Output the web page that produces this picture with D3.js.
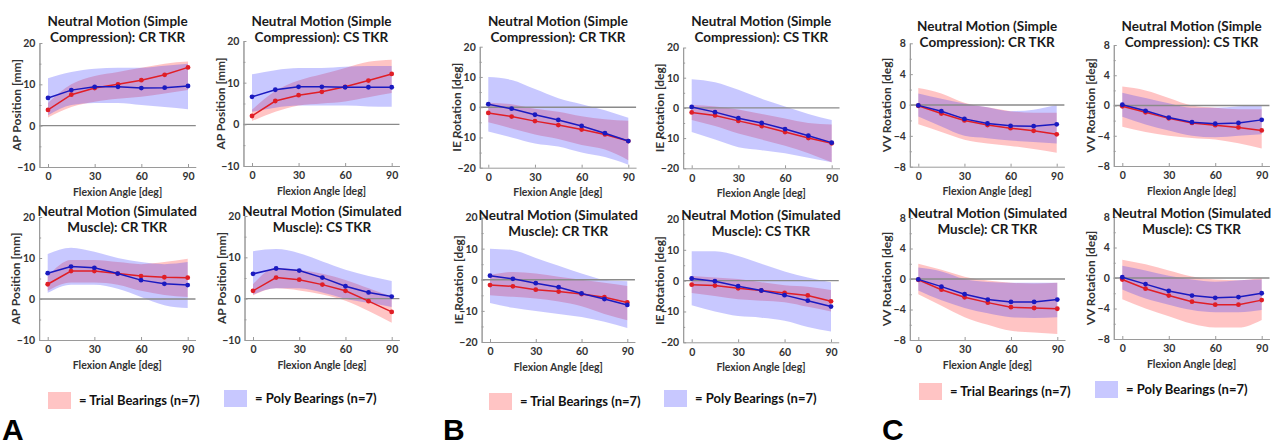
<!DOCTYPE html>
<html><head><meta charset="utf-8">
<script src="https://cdn.jsdelivr.net/npm/d3@7"></script>
<style>body{margin:0;background:#fff}svg{display:block}</style>
</head><body>
<svg id="c" width="1281" height="445"></svg>
<script>
// ---------- data ----------
const angles = [0, 15, 30, 45, 60, 75, 90];
const xTicks = [0, 30, 60, 90];
const apTicks = [20, 10, 0, -10];
const ieTicks = [20, 10, 0, -10, -20];
const vvTicks = [8, 4, 0, -4, -8];

// A1: AP, simple compression, CR
const apSimpleCR_trialMean = [3.8, 7.5, 9.1, 10.0, 11.0, 12.3, 14.1];
const apSimpleCR_trialLo   = [2.0, 4.5, 5.8, 6.5, 7.0, 7.8, 8.6];
const apSimpleCR_trialHi   = [5.5, 10.0, 12.0, 13.0, 14.0, 15.0, 15.5];
const apSimpleCR_polyMean  = [6.7, 8.6, 9.4, 9.4, 9.1, 9.2, 9.6];
const apSimpleCR_polyLo    = [2.5, 5.0, 5.5, 5.5, 5.0, 4.5, 4.0];
const apSimpleCR_polyHi    = [11.5, 13.0, 13.8, 14.0, 14.0, 14.5, 15.0];
// A2: AP, simple compression, CS
const apSimpleCS_trialMean = [2.0, 5.6, 7.0, 7.8, 9.0, 10.5, 12.1];
const apSimpleCS_trialLo   = [0.8, 3.0, 4.5, 5.0, 5.5, 6.5, 7.5];
const apSimpleCS_trialHi   = [3.5, 8.0, 10.5, 12.0, 13.5, 15.0, 15.5];
const apSimpleCS_polyMean  = [6.6, 8.3, 9.0, 9.0, 8.9, 8.9, 8.9];
const apSimpleCS_polyLo    = [3.0, 4.0, 4.5, 4.5, 4.5, 4.3, 4.2];
const apSimpleCS_polyHi    = [12.0, 13.0, 13.5, 13.5, 13.8, 14.0, 14.0];
// A3: AP, simulated muscle, CR
const apMuscleCR_trialMean = [3.6, 6.8, 6.8, 6.2, 5.6, 5.3, 5.2];
const apMuscleCR_trialLo   = [2.0, 4.0, 4.0, 3.5, 2.0, 1.0, 0.5];
const apMuscleCR_trialHi   = [5.5, 9.5, 9.5, 9.0, 8.5, 9.0, 9.8];
const apMuscleCR_polyMean  = [6.3, 7.9, 7.6, 6.2, 4.6, 3.7, 3.4];
const apMuscleCR_polyLo    = [1.5, 3.5, 3.5, 2.5, 0.5, -1.5, -2.2];
const apMuscleCR_polyHi    = [11.0, 12.5, 11.5, 10.0, 9.0, 8.5, 9.0];
// A4: AP, simulated muscle, CS
const apMuscleCS_trialMean = [1.9, 5.1, 4.6, 3.4, 1.9, -0.6, -3.2];
const apMuscleCS_trialLo   = [0.8, 2.5, 2.0, 1.0, -0.5, -3.0, -5.8];
const apMuscleCS_trialHi   = [3.5, 7.5, 7.0, 6.0, 4.5, 2.5, 0.5];
const apMuscleCS_polyMean  = [6.0, 7.3, 6.8, 5.1, 3.0, 1.5, 0.5];
const apMuscleCS_polyLo    = [1.0, 2.5, 2.5, 1.5, 0.0, -1.0, -2.0];
const apMuscleCS_polyHi    = [11.5, 12.0, 11.0, 9.0, 7.0, 5.5, 4.3];
// B1: IE, simple compression, CR
const ieSimpleCR_trialMean = [-1.9, -3.1, -4.6, -5.9, -7.4, -9.0, -11.2];
const ieSimpleCR_trialLo   = [-5.0, -7.0, -9.0, -10.5, -12.5, -14.0, -17.5];
const ieSimpleCR_trialHi   = [1.5, 1.0, -0.5, -1.5, -3.0, -4.0, -4.5];
const ieSimpleCR_polyMean  = [1.0, -0.5, -2.5, -4.2, -6.2, -8.6, -11.2];
const ieSimpleCR_polyLo    = [-8.0, -10.0, -12.0, -13.0, -15.0, -16.5, -19.0];
const ieSimpleCR_polyHi    = [10.0, 9.0, 6.0, 3.0, 1.0, -1.0, -3.5];
// B2: IE, simple compression, CS
const ieSimpleCS_trialMean = [-1.5, -2.5, -4.3, -6.0, -8.0, -10.0, -11.7];
const ieSimpleCS_trialLo   = [-4.0, -6.0, -8.5, -10.5, -12.5, -15.0, -18.0];
const ieSimpleCS_trialHi   = [1.0, 0.5, -0.5, -2.0, -3.5, -5.0, -5.5];
const ieSimpleCS_polyMean  = [0.3, -1.4, -3.4, -5.0, -7.0, -9.2, -11.5];
const ieSimpleCS_polyLo    = [-8.0, -10.5, -13.0, -14.0, -15.0, -16.5, -18.0];
const ieSimpleCS_polyHi    = [9.5, 8.5, 6.0, 3.0, 0.5, -2.0, -4.0];
// B3: IE, simulated muscle, CR
const ieMuscleCR_trialMean = [-1.7, -2.1, -3.2, -3.8, -4.6, -5.6, -7.3];
const ieMuscleCR_trialLo   = [-5.0, -5.5, -6.0, -7.0, -8.5, -11.0, -13.0];
const ieMuscleCR_trialHi   = [1.5, 2.5, 2.0, 1.0, 0.0, -1.0, -2.0];
const ieMuscleCR_polyMean  = [1.3, 0.3, -1.1, -2.4, -4.4, -6.2, -8.1];
const ieMuscleCR_polyLo    = [-7.5, -9.0, -10.0, -11.0, -12.0, -13.5, -15.5];
const ieMuscleCR_polyHi    = [10.0, 9.5, 7.0, 4.5, 2.0, 0.0, -0.5];
// B4: IE, simulated muscle, CS
const ieMuscleCS_trialMean = [-1.3, -1.6, -2.5, -3.2, -4.0, -4.8, -6.7];
const ieMuscleCS_trialLo   = [-4.0, -5.0, -6.0, -6.5, -7.0, -8.5, -10.0];
const ieMuscleCS_trialHi   = [1.5, 1.0, 0.5, -0.5, -1.5, -2.0, -3.0];
const ieMuscleCS_polyMean  = [0.7, -0.2, -1.8, -3.2, -4.7, -6.5, -8.4];
const ieMuscleCS_polyLo    = [-8.0, -10.0, -11.5, -12.0, -13.0, -15.0, -16.5];
const ieMuscleCS_polyHi    = [9.5, 9.5, 8.0, 5.5, 3.0, 1.0, -0.5];
// C1: VV, simple compression, CR
const vvSimpleCR_trialMean = [-0.1, -1.1, -2.0, -2.6, -3.0, -3.35, -3.8];
const vvSimpleCR_trialLo   = [-2.5, -3.5, -4.5, -5.0, -5.3, -5.7, -6.2];
const vvSimpleCR_trialHi   = [2.2, 1.5, 0.3, -0.3, -0.8, -1.0, -1.0];
const vvSimpleCR_polyMean  = [-0.05, -0.8, -1.8, -2.4, -2.7, -2.75, -2.5];
const vvSimpleCR_polyLo    = [-1.5, -2.8, -4.0, -4.3, -4.6, -4.8, -5.0];
const vvSimpleCR_polyHi    = [1.5, 0.8, 0.2, -0.3, -0.8, -0.6, 0.0];
// C2: VV, simple compression, CS
const vvSimpleCS_trialMean = [-0.1, -0.9, -1.7, -2.3, -2.6, -2.9, -3.3];
const vvSimpleCS_trialLo   = [-2.8, -3.5, -4.0, -4.3, -4.5, -5.0, -5.7];
const vvSimpleCS_trialHi   = [2.5, 2.0, 1.0, 0.0, -0.3, -0.5, -0.5];
const vvSimpleCS_polyMean  = [0.1, -0.7, -1.6, -2.2, -2.4, -2.3, -1.9];
const vvSimpleCS_polyLo    = [-1.5, -2.5, -3.3, -4.0, -4.2, -4.0, -3.8];
const vvSimpleCS_polyHi    = [1.7, 1.0, 0.3, -0.3, -0.3, -0.1, 0.0];
// C3: VV, simulated muscle, CR
const vvMuscleCR_trialMean = [-0.1, -1.4, -2.4, -3.1, -3.7, -3.8, -3.9];
const vvMuscleCR_trialLo   = [-2.0, -3.5, -5.0, -6.0, -6.8, -7.0, -7.2];
const vvMuscleCR_trialHi   = [2.0, 1.2, 0.3, -0.2, -0.5, -0.6, -0.5];
const vvMuscleCR_polyMean  = [-0.05, -1.0, -2.0, -2.7, -3.0, -3.0, -2.7];
const vvMuscleCR_polyLo    = [-1.5, -2.8, -3.8, -4.5, -5.0, -5.1, -5.0];
const vvMuscleCR_polyHi    = [1.5, 1.0, 0.0, -0.4, -0.5, -0.5, -0.5];
// C4: VV, simulated muscle, CS
const vvMuscleCS_trialMean = [-0.2, -1.4, -2.3, -3.1, -3.5, -3.5, -2.9];
const vvMuscleCS_trialLo   = [-2.8, -4.0, -5.0, -6.0, -6.5, -6.5, -5.5];
const vvMuscleCS_trialHi   = [2.4, 1.8, 1.0, 0.2, -0.2, -0.3, 0.0];
const vvMuscleCS_polyMean  = [0.1, -0.8, -1.7, -2.3, -2.6, -2.5, -2.0];
const vvMuscleCS_polyLo    = [-1.5, -2.7, -3.5, -4.2, -4.5, -4.5, -4.2];
const vvMuscleCS_polyHi    = [1.6, 1.0, 0.3, -0.2, -0.5, -0.3, -0.2];

const titleSimpleCR = ["Neutral Motion (Simple", "Compression): CR TKR"];
const titleSimpleCS = ["Neutral Motion (Simple", "Compression): CS TKR"];
const titleMuscleCR = ["Neutral Motion (Simulated", "Muscle): CR TKR"];
const titleMuscleCS = ["Neutral Motion (Simulated", "Muscle): CS TKR"];
const yLabels = {ap: "AP Position  [mm]", ie: "IE Rotation  [deg]", vv: "VV Rotation  [deg]"};
const xLabel = "Flexion Angle [deg]";
const legendTrial = "= Trial Bearings (n=7)";
const legendPoly = "= Poly Bearings (n=7)";

// ---------- panel assembly ----------
const panels = [
  {kind:"ap", ticks:apTicks, title:titleSimpleCR, tm:apSimpleCR_trialMean, tl:apSimpleCR_trialLo, th:apSimpleCR_trialHi, pm:apSimpleCR_polyMean, pl:apSimpleCR_polyLo, ph:apSimpleCR_polyHi},
  {kind:"ap", ticks:apTicks, title:titleSimpleCS, tm:apSimpleCS_trialMean, tl:apSimpleCS_trialLo, th:apSimpleCS_trialHi, pm:apSimpleCS_polyMean, pl:apSimpleCS_polyLo, ph:apSimpleCS_polyHi},
  {kind:"ap", ticks:apTicks, title:titleMuscleCR, tm:apMuscleCR_trialMean, tl:apMuscleCR_trialLo, th:apMuscleCR_trialHi, pm:apMuscleCR_polyMean, pl:apMuscleCR_polyLo, ph:apMuscleCR_polyHi},
  {kind:"ap", ticks:apTicks, title:titleMuscleCS, tm:apMuscleCS_trialMean, tl:apMuscleCS_trialLo, th:apMuscleCS_trialHi, pm:apMuscleCS_polyMean, pl:apMuscleCS_polyLo, ph:apMuscleCS_polyHi},
  {kind:"ie", ticks:ieTicks, title:titleSimpleCR, tm:ieSimpleCR_trialMean, tl:ieSimpleCR_trialLo, th:ieSimpleCR_trialHi, pm:ieSimpleCR_polyMean, pl:ieSimpleCR_polyLo, ph:ieSimpleCR_polyHi},
  {kind:"ie", ticks:ieTicks, title:titleSimpleCS, tm:ieSimpleCS_trialMean, tl:ieSimpleCS_trialLo, th:ieSimpleCS_trialHi, pm:ieSimpleCS_polyMean, pl:ieSimpleCS_polyLo, ph:ieSimpleCS_polyHi},
  {kind:"ie", ticks:ieTicks, title:titleMuscleCR, tm:ieMuscleCR_trialMean, tl:ieMuscleCR_trialLo, th:ieMuscleCR_trialHi, pm:ieMuscleCR_polyMean, pl:ieMuscleCR_polyLo, ph:ieMuscleCR_polyHi},
  {kind:"ie", ticks:ieTicks, title:titleMuscleCS, tm:ieMuscleCS_trialMean, tl:ieMuscleCS_trialLo, th:ieMuscleCS_trialHi, pm:ieMuscleCS_polyMean, pl:ieMuscleCS_polyLo, ph:ieMuscleCS_polyHi},
  {kind:"vv", ticks:vvTicks, title:titleSimpleCR, tm:vvSimpleCR_trialMean, tl:vvSimpleCR_trialLo, th:vvSimpleCR_trialHi, pm:vvSimpleCR_polyMean, pl:vvSimpleCR_polyLo, ph:vvSimpleCR_polyHi},
  {kind:"vv", ticks:vvTicks, title:titleSimpleCS, tm:vvSimpleCS_trialMean, tl:vvSimpleCS_trialLo, th:vvSimpleCS_trialHi, pm:vvSimpleCS_polyMean, pl:vvSimpleCS_polyLo, ph:vvSimpleCS_polyHi},
  {kind:"vv", ticks:vvTicks, title:titleMuscleCR, tm:vvMuscleCR_trialMean, tl:vvMuscleCR_trialLo, th:vvMuscleCR_trialHi, pm:vvMuscleCR_polyMean, pl:vvMuscleCR_polyLo, ph:vvMuscleCR_polyHi},
  {kind:"vv", ticks:vvTicks, title:titleMuscleCS, tm:vvMuscleCS_trialMean, tl:vvMuscleCS_trialLo, th:vvMuscleCS_trialHi, pm:vvMuscleCS_polyMean, pl:vvMuscleCS_polyLo, ph:vvMuscleCS_polyHi}
];

// ---------- layout (pixel geometry) ----------
const layout = [
  {x0:48,    x90:188,    top:43,    bot:167,   t1:21},
  {x0:252,   x90:391.7,  top:41,    bot:166,   t1:21},
  {x0:47.7,  x90:187.7,  top:217,   bot:340,   t1:211},
  {x0:253,   x90:391.7,  top:216,   bot:340,   t1:211},
  {x0:488.3, x90:628.3,  top:46.7,  bot:167.7, t1:21},
  {x0:691.7, x90:831.7,  top:47.5,  bot:168.3, t1:21},
  {x0:490,   x90:627.3,  top:217.5, bot:342,   t1:215},
  {x0:691.7, x90:831,    top:219,   bot:342.3, t1:215},
  {x0:918.3, x90:1056.7, top:43.3,  bot:166.7, t1:26},
  {x0:1122.3,x90:1261.7, top:45,    bot:166,   t1:26},
  {x0:918.3, x90:1057.3, top:218,   bot:340,   t1:213},
  {x0:1122.3,x90:1261.7, top:217,   bot:339,   t1:213}
];

const RED = "#e01e26", BLUE = "#1a1ac0";
const svg = d3.select("#c");
const FONT = "Lato, 'Open Sans', sans-serif";

panels.forEach((p, i) => {
  const L = layout[i];
  const k = (L.x90 - L.x0) / 90;
  const x = d3.scaleLinear().domain([-5.5, 95]).range([L.x0 - 5.5 * k, L.x0 + 95 * k]);
  const ymax = d3.max(p.ticks), ymin = d3.min(p.ticks);
  const y = d3.scaleLinear().domain([ymin, ymax]).range([L.bot, L.top]);
  const g = svg.append("g");
  const xl = x.range()[0], xr = x.range()[1];

  const band = (lo, hi) => d3.area().x((d, j) => x(angles[j])).y0((d, j) => y(lo[j])).y1((d, j) => y(hi[j])).curve(d3.curveMonotoneX)(angles);
  g.append("path").attr("d", band(p.tl, p.th)).attr("fill", "#ff1a1a").attr("fill-opacity", 0.26);
  g.append("path").attr("d", band(p.pl, p.ph)).attr("fill", "#2a2aff").attr("fill-opacity", 0.26);

  g.append("line").attr("x1", xl).attr("x2", xr).attr("y1", y(0)).attr("y2", y(0))
    .attr("stroke", "#8a8a8a").attr("stroke-width", 1.4);

  const yAxis = d3.axisLeft(y).tickValues(p.ticks).tickSize(-3).tickSizeOuter(0).tickPadding(4).tickFormat(d3.format("d"));
  g.append("g").attr("transform", `translate(${xl},0)`).call(yAxis);
  const minor = p.ticks.slice(0, -1).map((t, j) => (t + p.ticks[j + 1]) / 2);
  g.append("g").attr("transform", `translate(${xl},0)`).call(d3.axisLeft(y).tickValues(minor).tickSize(-2).tickSizeOuter(0).tickFormat(""));
  const xAxis = d3.axisBottom(x).tickValues(xTicks).tickSize(-3).tickSizeOuter(0).tickPadding(6);
  g.append("g").attr("transform", `translate(0,${L.bot})`).call(xAxis);
  g.selectAll(".domain, .tick line").attr("stroke", "#9a9a9a");
  g.selectAll(".tick text").attr("font-family", FONT).attr("font-weight", "bold").attr("font-size", 10.5).attr("fill", "#333");

  const line = d3.line().x((d, j) => x(angles[j])).y(d => y(d));
  [[p.tm, RED], [p.pm, BLUE]].forEach(([vals, col]) => {
    g.append("path").attr("d", line(vals)).attr("fill", "none").attr("stroke", col).attr("stroke-width", 1.5);
    g.selectAll(null).data(vals).enter().append("circle")
      .attr("cx", (d, j) => x(angles[j])).attr("cy", d => y(d)).attr("r", 2.4).attr("fill", col);
  });

  const cx = (xl + xr) / 2;
  p.title.forEach((t, j) => {
    g.append("text").attr("x", cx).attr("y", L.t1 + j * 16).attr("dy", "0.35em")
      .attr("text-anchor", "middle").attr("font-family", FONT).attr("font-weight", "bold")
      .attr("font-size", 13.5).attr("fill", "#1a1a1a").text(t);
  });
  g.append("text").attr("x", cx).attr("y", L.bot + 25).attr("dy", "0.35em").attr("text-anchor", "middle")
    .attr("font-family", FONT).attr("font-weight", "bold").attr("font-size", 10.5).attr("fill", "#333").text(xLabel);
  g.append("text").attr("transform", `translate(${xl - 23},${(L.top + L.bot) / 2}) rotate(-90)`)
    .attr("dy", "0.35em").attr("text-anchor", "middle").attr("font-family", FONT).attr("font-weight", "bold")
    .attr("font-size", 12).attr("fill", "#333").text(yLabels[p.kind]);
});

const legends = [
  {x:48, y:392, text:legendTrial, col:"#ff1a1a"},
  {x:224, y:390, text:legendPoly, col:"#2a2aff"},
  {x:489, y:393, text:legendTrial, col:"#ff1a1a"},
  {x:664, y:390, text:legendPoly, col:"#2a2aff"},
  {x:919, y:383, text:legendTrial, col:"#ff1a1a"},
  {x:1095, y:381, text:legendPoly, col:"#2a2aff"}
];
legends.forEach(l => {
  svg.append("rect").attr("x", l.x).attr("y", l.y).attr("width", 23).attr("height", 17).attr("fill", l.col).attr("fill-opacity", 0.26);
  svg.append("text").attr("x", l.x + 31).attr("y", l.y + 8.5).attr("dy", "0.35em")
    .attr("font-family", FONT).attr("font-weight", "bold").attr("font-size", 13).attr("fill", "#111").text(l.text);
});
const letters = [{x:2, y:440, t:"A"}, {x:443, y:440, t:"B"}, {x:882, y:440, t:"C"}];
letters.forEach(l => svg.append("text").attr("x", l.x).attr("y", l.y).attr("font-family", "'Liberation Sans', Arial, sans-serif")
  .attr("font-weight", "bold").attr("font-size", 30).attr("fill", "#000").text(l.t));
</script>
</body></html>
